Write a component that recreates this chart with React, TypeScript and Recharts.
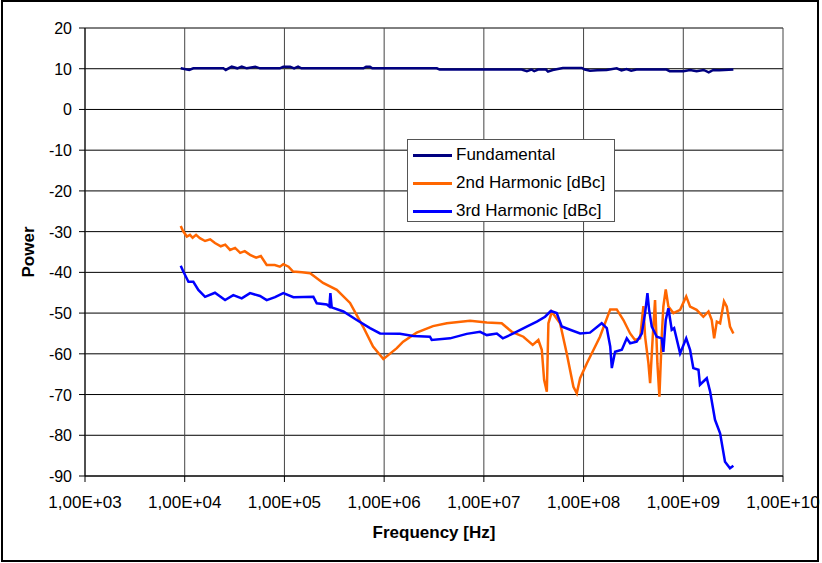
import React from 'react';
import { LineChart, Line, XAxis, YAxis, CartesianGrid, Legend } from 'recharts';

// Frequency [Hz] / Power pairs
const fundamentalFreq = [9.12e3, 1.11e4, 1.22e4, 2.44e4, 2.58e4, 2.96e4, 3.37e4, 3.73e4, 4.2e4, 5.1e4, 5.69e4, 9.0e4, 9.75e4, 1.14e5, 1.25e5, 1.37e5, 1.48e5, 6.2e5, 6.6e5, 7.2e5, 7.6e5, 3.38e6, 3.6e6, 2.39e7, 2.7e7, 3.0e7, 3.2e7, 3.5e7, 4.2e7, 4.4e7, 4.9e7, 6.2e7, 9.6e7, 1.03e8, 1.16e8, 1.37e8, 1.7e8, 2.15e8, 2.4e8, 2.7e8, 3.0e8, 3.4e8, 6.8e8, 7.3e8, 1.0e9, 1.17e9, 1.36e9, 1.6e9, 1.8e9, 2.0e9, 2.3e9, 3.18e9];
const fundamentalPower = [10.1, 9.7, 10.1, 10.1, 9.7, 10.5, 10.1, 10.5, 10.1, 10.5, 10.1, 10.1, 10.5, 10.5, 10.1, 10.5, 10.1, 10.1, 10.5, 10.5, 10.1, 10.1, 9.8, 9.8, 9.4, 9.8, 9.4, 9.8, 9.8, 9.3, 9.7, 10.2, 10.2, 9.8, 9.5, 9.6, 9.7, 10.1, 9.6, 9.9, 9.5, 9.8, 9.8, 9.4, 9.4, 9.7, 9.4, 9.7, 9.1, 9.7, 9.6, 9.8];

const secondFreq = [9.12e3, 9.6e3, 1.05e4, 1.13e4, 1.2e4, 1.3e4, 1.42e4, 1.6e4, 1.8e4, 2.01e4, 2.3e4, 2.55e4, 2.85e4, 3.2e4, 3.6e4, 4.0e4, 4.52e4, 5.2e4, 5.8e4, 6.64e4, 8.0e4, 9.0e4, 9.75e4, 1.1e5, 1.22e5, 1.5e5, 1.81e5, 2.05e5, 2.44e5, 3.35e5, 4.55e5, 6.14e5, 7.74e5, 9.82e5, 1.34e6, 1.55e6, 2.12e6, 3.09e6, 4.25e6, 7.27e6, 1.07e7, 1.51e7, 1.91e7, 2.49e7, 3.09e7, 3.52e7, 3.81e7, 4.02e7, 4.28e7, 4.44e7, 4.8e7, 5.81e7, 6.78e7, 7.91e7, 8.55e7, 9.23e7, 1.08e8, 1.46e8, 1.85e8, 2.15e8, 2.51e8, 2.93e8, 3.28e8, 3.69e8, 3.98e8, 4.14e8, 4.47e8, 4.65e8, 4.94e8, 5.21e8, 5.5e8, 5.76e8, 6.08e8, 6.31e8, 6.67e8, 7.09e8, 7.96e8, 9.29e8, 1.07e9, 1.17e9, 1.36e9, 1.59e9, 1.79e9, 1.93e9, 2.04e9, 2.17e9, 2.34e9, 2.56e9, 2.73e9, 2.94e9, 3.18e9];
const secondPower = [-28.6, -29.8, -31.2, -30.8, -31.5, -30.8, -31.6, -32.3, -31.9, -32.8, -33.6, -33.2, -34.5, -34.0, -35.2, -34.8, -35.7, -36.4, -36.0, -38.2, -38.2, -38.6, -38.0, -38.6, -39.8, -40.0, -40.2, -41.2, -42.6, -44.3, -47.5, -53.3, -58.2, -61.3, -58.6, -57.0, -54.8, -53.2, -52.5, -51.9, -52.3, -52.5, -54.6, -55.8, -57.8, -56.6, -59.0, -66.4, -69.3, -52.5, -49.7, -52.5, -59.9, -68.1, -69.7, -66.0, -62.3, -55.8, -49.1, -49.1, -51.7, -55.0, -56.6, -56.2, -48.3, -55.8, -62.3, -67.2, -55.8, -46.8, -62.3, -70.5, -55.8, -48.4, -44.2, -48.4, -50.0, -49.2, -45.9, -48.4, -49.2, -50.9, -49.6, -51.7, -56.2, -52.1, -52.5, -47.1, -48.4, -53.3, -55.0];

const thirdFreq = [9.12e3, 9.68e3, 1.09e4, 1.22e4, 1.37e4, 1.6e4, 2.01e4, 2.54e4, 3.07e4, 3.73e4, 4.52e4, 5.69e4, 6.64e4, 8.05e4, 9.75e4, 1.23e5, 1.95e5, 2.11e5, 2.66e5, 2.82e5, 2.89e5, 2.98e5, 3.9e5, 5.31e5, 7.22e5, 9.1e5, 1.44e6, 1.96e6, 2.88e6, 3.0e6, 4.58e6, 6.73e6, 9.16e6, 1.07e7, 1.35e7, 1.55e7, 1.98e7, 2.69e7, 3.4e7, 4.11e7, 4.69e7, 5.38e7, 6.04e7, 7.33e7, 9.23e7, 1.16e8, 1.52e8, 1.71e8, 1.85e8, 1.92e8, 2.07e8, 2.42e8, 2.71e8, 2.93e8, 3.41e8, 3.84e8, 4.14e8, 4.37e8, 4.54e8, 4.83e8, 5.42e8, 6.08e8, 6.31e8, 6.67e8, 7.09e8, 7.66e8, 8.09e8, 9.29e8, 1.07e9, 1.17e9, 1.26e9, 1.42e9, 1.47e9, 1.72e9, 1.86e9, 2.08e9, 2.34e9, 2.62e9, 2.94e9, 3.18e9];
const thirdPower = [-38.4, -39.8, -42.3, -42.3, -44.3, -46.0, -45.0, -46.8, -45.6, -46.4, -45.1, -45.8, -46.8, -46.1, -45.1, -46.1, -46.0, -47.6, -47.9, -48.4, -45.1, -48.6, -49.6, -51.7, -53.7, -55.0, -55.1, -55.6, -55.8, -56.6, -56.2, -55.1, -54.6, -55.4, -55.0, -56.2, -55.0, -53.3, -52.1, -50.9, -49.5, -50.0, -53.3, -54.1, -55.0, -54.8, -52.5, -53.7, -58.2, -63.5, -59.5, -59.0, -56.2, -57.4, -57.0, -55.0, -50.0, -45.1, -49.2, -53.3, -55.8, -56.2, -59.5, -51.7, -48.8, -54.1, -53.7, -59.9, -56.2, -59.0, -63.5, -63.9, -67.6, -66.0, -69.3, -76.2, -79.5, -86.5, -88.1, -87.5];

const seriesNames = ['Fundamental', '2nd Harmonic [dBc]', '3rd Harmonic [dBc]'];
const seriesColors = ['#000080', '#FF6600', '#0000FF'];

const xTicks = [1e3, 1e4, 1e5, 1e6, 1e7, 1e8, 1e9, 1e10];
const yTicks = [-90, -80, -70, -60, -50, -40, -30, -20, -10, 0, 10, 20];

const toRows = (fs: number[], ps: number[]) => fs.map((f, i) => ({ f, v: ps[i] }));
const fundamentalData = toRows(fundamentalFreq, fundamentalPower);
const secondData = toRows(secondFreq, secondPower);
const thirdData = toRows(thirdFreq, thirdPower);
const allData = [fundamentalData, secondData, thirdData];

const FONT = '"Liberation Sans", Arial, sans-serif';

const fmtX = (v: number) => {
  const e = Math.round(Math.log10(v));
  return `1,00E+${String(e).padStart(2, '0')}`;
};

const XTick = (props: any) => {
  const { x, y, payload } = props;
  return (
    <text x={x} y={y} dy={24} textAnchor="middle" fill="#000" fontSize={17} fontFamily={FONT}>
      {fmtX(payload.value)}
    </text>
  );
};

const YTick = (props: any) => {
  const { x, y, payload } = props;
  return (
    <text x={x} y={y} dx={-5} dy={6} textAnchor="end" fill="#000" fontSize={16} fontFamily={FONT}>
      {payload.value}
    </text>
  );
};

const renderLegend = () => (
  <div
    style={{
      position: 'relative',
      width: 206,
      height: 81,
      border: '1px solid #555',
      background: '#fff',
      fontFamily: FONT,
      fontSize: 17,
      color: '#000',
    }}
  >
    {seriesNames.map((name, i) => (
      <div
        key={name}
        style={{
          position: 'absolute',
          left: 5,
          top: 1 + 28 * i,
          height: 28,
          display: 'flex',
          alignItems: 'center',
          whiteSpace: 'nowrap',
        }}
      >
        <div style={{ width: 39, height: 3, background: seriesColors[i] }} />
        <span style={{ marginLeft: 4 }}>{name}</span>
      </div>
    ))}
  </div>
);

export default function App() {
  return (
    <div style={{ position: 'fixed', left: 0, top: 0, width: 822, height: 563, background: '#fff' }}>
      <LineChart width={822} height={563} margin={{ top: 28, right: 39, left: 0, bottom: 0 }}>
        <CartesianGrid horizontal={true} vertical={false} stroke="#000" strokeOpacity={1} />
        <CartesianGrid horizontal={false} vertical={true} stroke="#444" strokeOpacity={1} />
        <XAxis
          dataKey="f"
          type="number"
          scale="log"
          domain={[1e3, 1e10]}
          ticks={xTicks}
          allowDataOverflow
          height={87}
          tickSize={6}
          tick={<XTick />}
          stroke="#000"
          interval={0}
          label={(p: any) => {
            const vb = p.viewBox || { x: 85, y: 476, width: 698, height: 87 };
            return (
              <text x={vb.x + vb.width / 2} y={538} textAnchor="middle" fontSize={17} fontWeight="bold" fontFamily={FONT} fill="#000">
                Frequency [Hz]
              </text>
            );
          }}
        />
        <YAxis
          type="number"
          domain={[-90, 20]}
          ticks={yTicks}
          width={85}
          tickSize={6}
          tick={<YTick />}
          stroke="#000"
          interval={0}
          label={(p: any) => {
            const vb = p.viewBox || { x: 0, y: 28, width: 85, height: 448 };
            const cy = vb.y + vb.height / 2;
            return (
              <text
                x={28}
                y={cy}
                dy={6}
                transform={`rotate(-90, 28, ${cy})`}
                textAnchor="middle"
                fontSize={17}
                fontWeight="bold"
                fontFamily={FONT}
                fill="#000"
              >
                Power
              </text>
            );
          }}
        />
        {allData.map((d, i) => (
          <Line
            key={seriesNames[i]}
            data={d}
            dataKey="v"
            name={seriesNames[i]}
            type="linear"
            stroke={seriesColors[i]}
            strokeWidth={2.5}
            dot={false}
            activeDot={false}
            isAnimationActive={false}
          />
        ))}
        <Legend
          content={renderLegend}
          layout="vertical"
          align="center"
          verticalAlign="middle"
          wrapperStyle={{ left: 407, top: 139, width: 208, height: 83 }}
        />
      </LineChart>
      <div
        style={{
          position: 'absolute',
          left: 1,
          top: 0,
          width: 818,
          height: 562,
          border: '2px solid #000',
          boxSizing: 'border-box',
          pointerEvents: 'none',
        }}
      />
    </div>
  );
}
